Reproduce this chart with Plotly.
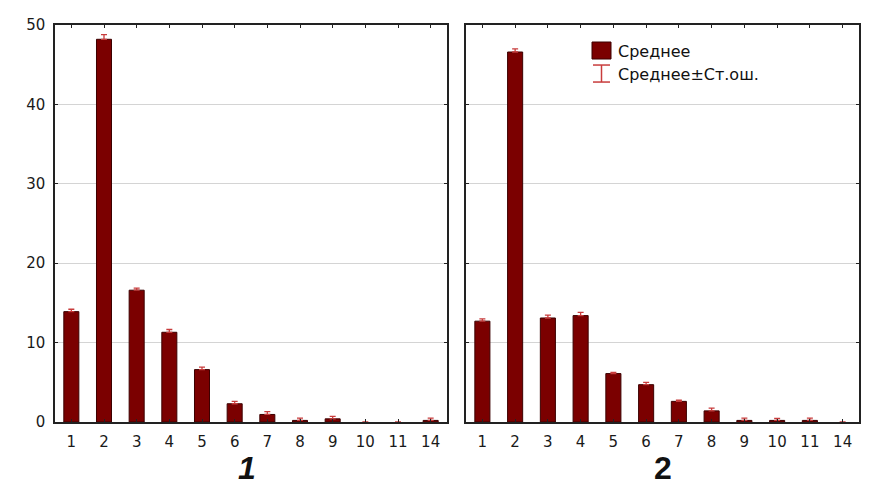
import plotly.graph_objects as go

categories = ["1", "2", "3", "4", "5", "6", "7", "8", "9", "10", "11", "14"]
means_1 = [13.9, 48.2, 16.6, 11.3, 6.6, 2.3, 0.95, 0.2, 0.4, 0.0, 0.0, 0.2]
se_1 = [0.3, 0.6, 0.25, 0.35, 0.3, 0.3, 0.35, 0.3, 0.3, 0.0, 0.0, 0.3]
means_2 = [12.7, 46.6, 13.1, 13.4, 6.1, 4.7, 2.6, 1.4, 0.2, 0.2, 0.2, 0.0]
se_2 = [0.3, 0.4, 0.35, 0.4, 0.15, 0.3, 0.15, 0.35, 0.3, 0.25, 0.3, 0.0]
panel_titles = ["1", "2"]
legend_labels = ["Среднее", "Среднее±Ст.ош."]
y_ticks = [0, 10, 20, 30, 40, 50]

BAR = "#7b0000"
BAR_EDGE = "#3c0000"
ERR = "#c83c3c"
TICK_FONT = "DejaVu Sans, Arial, sans-serif"
TITLE_FONT = "Arial, Liberation Sans, sans-serif"

# page body has an 8px margin: work in reference pixels, shifted by OFF
OFF = 8
W, H = 878 - OFF, 492 - OFF
TOP, BOT = 25 - OFF, 421.7 - OFF

def px(xp):
    return (xp - OFF) / W
def py(yp):
    return 1 - ((yp - OFF) - TOP) / (BOT - TOP)

fig = go.Figure()
for i, (m, s) in enumerate([(means_1, se_1), (means_2, se_2)]):
    fig.add_trace(go.Bar(
        x=categories, y=m, width=0.46,
        marker=dict(color=BAR, line=dict(color=BAR_EDGE, width=[1 if v > 0 else 0 for v in m])),
        error_y=dict(type="data", array=s, arrayminus=[0]*len(s), color=ERR, thickness=1.3, width=3),
        xaxis="x" if i == 0 else "x2", yaxis="y" if i == 0 else "y2",
        showlegend=False,
    ))

axis_common = dict(showline=True, linecolor="#222", linewidth=1.5, mirror="ticks",
                   ticks="inside", ticklen=3, tickcolor="#222", ticklabelstandoff=5,
                   tickfont=dict(family=TICK_FONT, size=15, color="#1a1a1a"))
fig.update_layout(
    width=W, height=H,
    margin=dict(l=0, r=0, t=TOP, b=H - BOT),
    paper_bgcolor="white", plot_bgcolor="white",
    font=dict(family=TICK_FONT),
    xaxis=dict(domain=[px(55), px(447)], type="category", showgrid=False, anchor="y", **axis_common),
    xaxis2=dict(domain=[px(466), px(859)], type="category", showgrid=False, anchor="y2", **axis_common),
    yaxis=dict(range=[0, 50], tickvals=y_ticks, showgrid=True, gridcolor="#d4d4d4", gridwidth=1,
               anchor="x", zeroline=False, **axis_common),
    yaxis2=dict(range=[0, 50], tickvals=y_ticks, showticklabels=False, showgrid=True,
                gridcolor="#d4d4d4", gridwidth=1, anchor="x2", zeroline=False, **axis_common),
)

# panel titles
fig.add_annotation(x=px(247), y=py(468), xref="paper", yref="paper", xanchor="center", yanchor="middle",
                   text="<b><i>%s</i></b>" % panel_titles[0], showarrow=False,
                   font=dict(family=TITLE_FONT, size=32, color="#111"))
fig.add_annotation(x=px(663), y=py(468), xref="paper", yref="paper", xanchor="center", yanchor="middle",
                   text="<b>%s</b>" % panel_titles[1], showarrow=False,
                   font=dict(family=TITLE_FONT, size=32, color="#111"))

# manual legend
fig.add_shape(type="rect", xref="paper", yref="paper",
              x0=px(592), x1=px(611), y0=py(59), y1=py(42),
              fillcolor=BAR, line=dict(color=BAR_EDGE, width=1))
fig.add_shape(type="line", xref="paper", yref="paper", x0=px(601.5), x1=px(601.5), y0=py(65), y1=py(82),
              line=dict(color=ERR, width=1.5))
fig.add_shape(type="line", xref="paper", yref="paper", x0=px(593), x1=px(610), y0=py(65), y1=py(65),
              line=dict(color=ERR, width=1.5))
fig.add_shape(type="line", xref="paper", yref="paper", x0=px(593), x1=px(610), y0=py(82), y1=py(82),
              line=dict(color=ERR, width=1.5))
fig.add_annotation(x=px(616), y=py(51), xref="paper", yref="paper", xanchor="left", yanchor="middle",
                   text=legend_labels[0], showarrow=False, font=dict(family=TICK_FONT, size=16, color="#111"))
fig.add_annotation(x=px(616), y=py(74), xref="paper", yref="paper", xanchor="left", yanchor="middle",
                   text=legend_labels[1], showarrow=False, font=dict(family=TICK_FONT, size=16, color="#111"))

fig.write_html("out.html")
